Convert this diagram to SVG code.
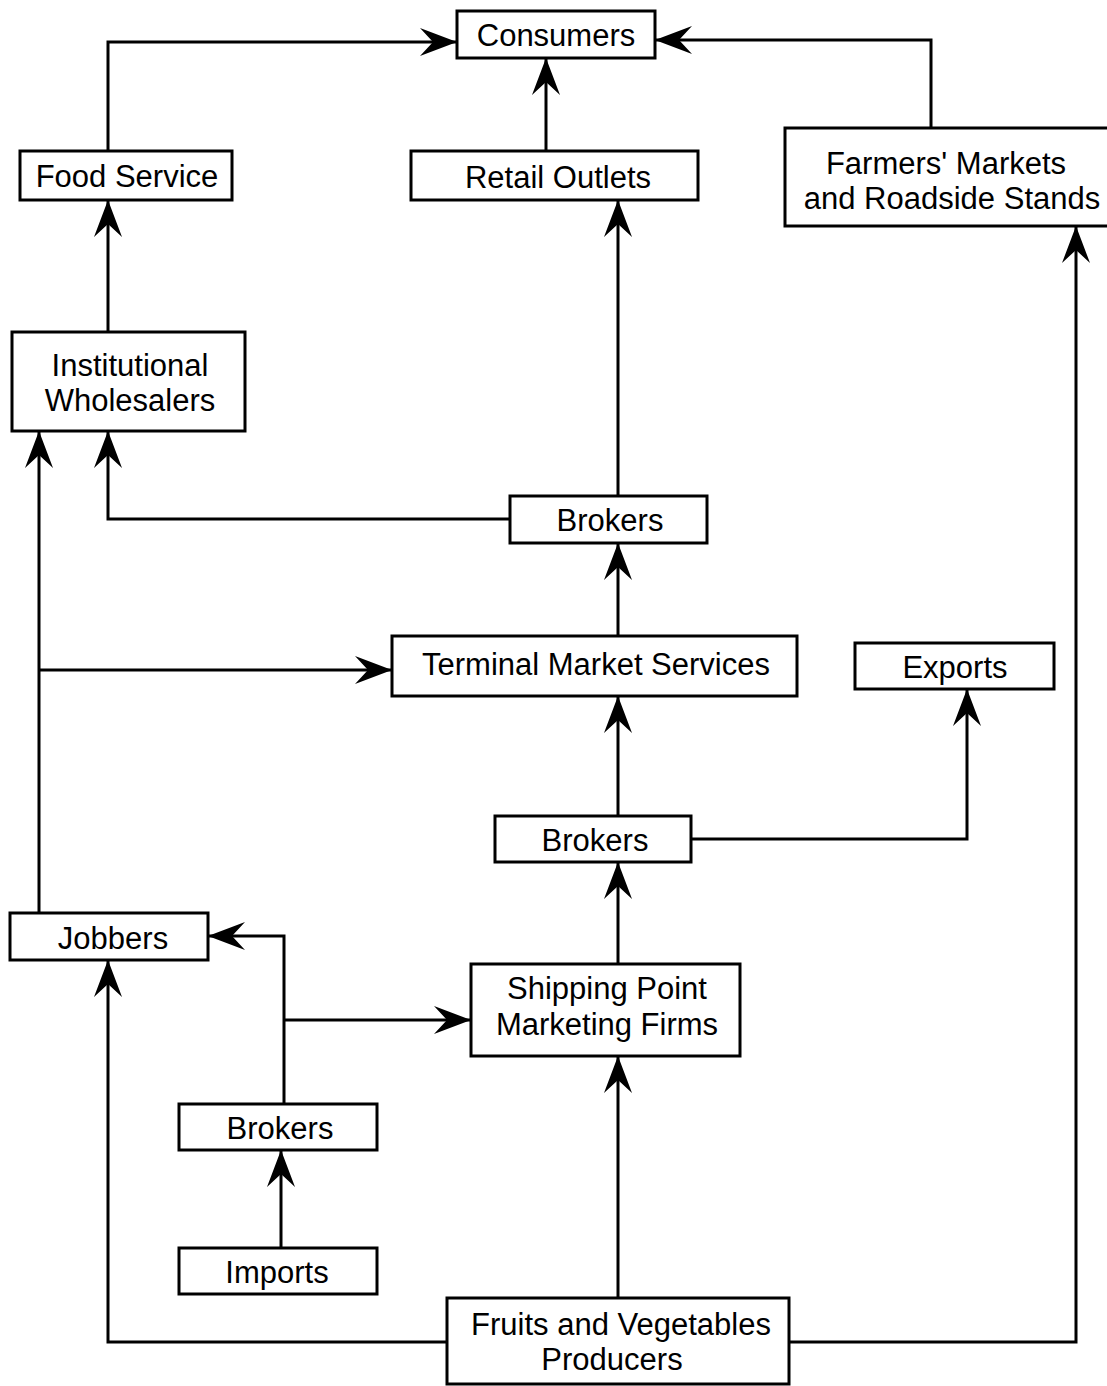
<svg xmlns="http://www.w3.org/2000/svg" width="1107" height="1386" viewBox="0 0 1107 1386">
<style>
.box{fill:#fff;stroke:#000;stroke-width:3}
.lbl{font-family:"Liberation Sans",Arial,sans-serif;font-size:31px;fill:#000;text-anchor:middle}
.edge{fill:none;stroke:#000;stroke-width:3;marker-end:url(#arr)}
.plain{fill:none;stroke:#000;stroke-width:3}
</style>
<defs>
<marker id="arr" markerUnits="userSpaceOnUse" orient="auto" markerWidth="50" markerHeight="40" refX="0" refY="0" viewBox="-40 -20 42 40" overflow="visible">
<path d="M0,0 L-37,-14 L-24,0 L-37,14 Z" fill="#000"/>
</marker>
</defs>
<rect width="1107" height="1386" fill="#fff"/>
<g id="connectors">
<path class="edge" d="M108,151 V42 H457"/>
<path class="edge" d="M546,151 V58"/>
<path class="edge" d="M931,128 V40 H655"/>
<path class="edge" d="M108,332 V200"/>
<path class="edge" d="M618,496 V200"/>
<path class="edge" d="M510,519 H108 V431"/>
<path class="edge" d="M618,636 V543"/>
<path class="edge" d="M39,913 V431"/>
<path class="edge" d="M39,670 H392"/>
<path class="edge" d="M618,816 V696"/>
<path class="edge" d="M691,839 H967 V689"/>
<path class="edge" d="M618,964 V862"/>
<path class="edge" d="M284,1104 V936 H208"/>
<path class="edge" d="M284,1020 H471"/>
<path class="edge" d="M281,1248 V1150"/>
<path class="edge" d="M618,1298 V1056"/>
<path class="edge" d="M447,1342 H108 V960"/>
<path class="edge" d="M789,1342 H1076 V226"/>
</g>
<g id="consumers"><rect class="box" x="457" y="11" width="198" height="47"/><text class="lbl" x="556" y="46">Consumers</text></g>
<g id="food-service"><rect class="box" x="20" y="151" width="212" height="49"/><text class="lbl" x="127" y="187">Food Service</text></g>
<g id="retail-outlets"><rect class="box" x="411" y="151" width="287" height="49"/><text class="lbl" x="558" y="188">Retail Outlets</text></g>
<g id="farmers-markets"><rect class="box" x="785" y="128" width="330" height="98"/><text class="lbl" x="946" y="174">Farmers' Markets</text><text class="lbl" x="952" y="209">and Roadside Stands</text></g>
<g id="institutional-wholesalers"><rect class="box" x="12" y="332" width="233" height="99"/><text class="lbl" x="130" y="376">Institutional</text><text class="lbl" x="130" y="411">Wholesalers</text></g>
<g id="brokers-top"><rect class="box" x="510" y="496" width="197" height="47"/><text class="lbl" x="610" y="531">Brokers</text></g>
<g id="terminal-market-services"><rect class="box" x="392" y="636" width="405" height="60"/><text class="lbl" x="596" y="675">Terminal Market Services</text></g>
<g id="exports"><rect class="box" x="855" y="643" width="199" height="46"/><text class="lbl" x="955" y="678">Exports</text></g>
<g id="brokers-mid"><rect class="box" x="495" y="816" width="196" height="46"/><text class="lbl" x="595" y="851">Brokers</text></g>
<g id="jobbers"><rect class="box" x="10" y="913" width="198" height="47"/><text class="lbl" x="113" y="949">Jobbers</text></g>
<g id="shipping-point"><rect class="box" x="471" y="964" width="269" height="92"/><text class="lbl" x="607" y="999">Shipping Point</text><text class="lbl" x="607" y="1035">Marketing Firms</text></g>
<g id="brokers-bottom"><rect class="box" x="179" y="1104" width="198" height="46"/><text class="lbl" x="280" y="1139">Brokers</text></g>
<g id="imports"><rect class="box" x="179" y="1248" width="198" height="46"/><text class="lbl" x="277" y="1283">Imports</text></g>
<g id="producers"><rect class="box" x="447" y="1298" width="342" height="86"/><text class="lbl" x="621" y="1335">Fruits and Vegetables</text><text class="lbl" x="612" y="1370">Producers</text></g>
</svg>
